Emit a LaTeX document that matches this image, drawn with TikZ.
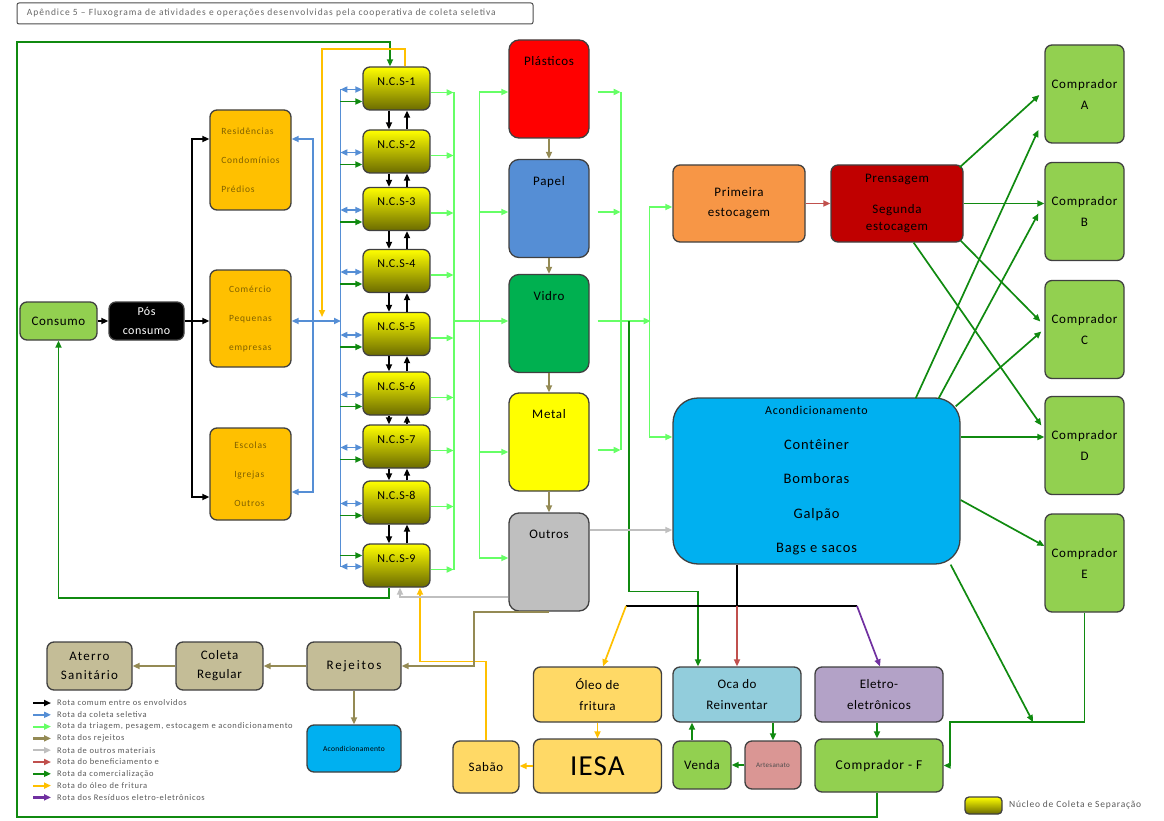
\documentclass[tikz,border=0pt]{standalone}
\usepackage{fontspec}
\setmainfont{Carlito}
\usepackage{tikz}
\usetikzlibrary{arrows.meta,positioning,calc}

\definecolor{cBlue}{HTML}{558ED5}
\definecolor{cLightGreen}{HTML}{66FF66}
\definecolor{cDarkGreen}{HTML}{108A10}
\definecolor{cTan}{HTML}{948A54}
\definecolor{cGray}{HTML}{BFBFBF}
\definecolor{cRed}{HTML}{C0504D}
\definecolor{cOrange}{HTML}{FFC000}
\definecolor{cPurple}{HTML}{7030A0}
\definecolor{fGreen}{HTML}{92D050}
\definecolor{fOrange}{HTML}{FFC000}
\definecolor{tOrange}{HTML}{7F6000}
\definecolor{fPlast}{HTML}{FF0000}
\definecolor{fPapel}{HTML}{558ED5}
\definecolor{fVidro}{HTML}{00B050}
\definecolor{fMetal}{HTML}{FFFF00}
\definecolor{fOutros}{HTML}{BFBFBF}
\definecolor{fPrim}{HTML}{F79646}
\definecolor{fPrens}{HTML}{C00000}
\definecolor{fAcond}{HTML}{00B0F0}
\definecolor{fOleo}{HTML}{FFD966}
\definecolor{fOca}{HTML}{92CDDC}
\definecolor{fEletro}{HTML}{B3A2C7}
\definecolor{fArtes}{HTML}{DA9694}
\definecolor{fRej}{HTML}{C4BD97}
\definecolor{ncsDark}{HTML}{6B6B00}

\newcommand\fsz[3]{\fontsize{#1}{#2}\selectfont\addfontfeatures{LetterSpace=#3}}

\tikzset{
  >={Triangle[length=7pt,width=6pt]},
  box/.style    ={draw=black!75,line width=1.3pt,rounded corners=7pt,inner sep=2pt,align=center,font=\fsz{13}{15}{5}},
  fonte/.style  ={box,fill=fOrange,minimum width=81,align=left,text=tOrange,font=\fsz{9.5}{29}{8}},
  ncs/.style    ={box,top color=yellow,bottom color=ncsDark,minimum width=67,minimum height=43,text depth=14pt,font=\fsz{12}{14}{4}},
  mat/.style    ={box,rounded corners=10pt,minimum width=80,minimum height=98,text depth=56pt},
  comprador/.style={box,fill=fGreen,minimum width=79,minimum height=98,font=\fsz{13}{21}{6}},
  baixo/.style  ={box,minimum width=128,minimum height=55,font=\fsz{13}{21}{4}},
  rejbox/.style ={box,fill=fRej,minimum width=87,minimum height=48,font=\fsz{13}{19}{6}},
  rota/.style   ={line width=1.7pt,->},
  comum/.style  ={rota,black},
  coleta/.style ={rota,cBlue},
  triagem/.style={rota,cLightGreen},
  rejeito/.style={rota,cTan},
  outros/.style ={rota,cGray},
  benef/.style  ={rota,cRed},
  comerc/.style ={rota,cDarkGreen},
  oleo/.style   ={rota,cOrange},
  eletro/.style ={rota,cPurple},
  legenda/.style={anchor=west,text=black!65,inner sep=1pt,font=\fsz{8.5}{9}{8}},
}

\begin{document}
\begin{tikzpicture}[x=1pt,y=-1pt]
  \useasboundingbox (0,0) rectangle (1164,821);

  % titulo
  \node[draw=black!70,line width=1pt,rounded corners=2pt,minimum width=516,minimum height=21,inner sep=0pt,
        text width=496,align=left,text=black!60,font=\fsz{9.5}{11}{10}] (titulo) at (275,13.5)
        {Apêndice 5 -- Fluxograma de atividades e operações desenvolvidas pela cooperativa de coleta seletiva};

  % origem
  \node[box,fill=fGreen,minimum width=77,minimum height=38] (consumo) at (58.5,321) {Consumo};
  \node[box,fill=black,text=white,minimum width=75,minimum height=38,font=\fsz{12}{19}{4}] (pos) at (146.5,321) {Pós\\consumo};
  \node[fonte,minimum height=100] (res) at (250.5,160) {Residências\\Condomínios\\Prédios};
  \node[fonte,minimum height=97] (com) at (250.5,318.5) {Comércio\\Pequenas\\empresas};
  \node[fonte,minimum height=92] (esc) at (250.5,474) {Escolas\\Igrejas\\Outros};

  % nucleos
  \foreach \i/\y in {1/88.5,2/151.5,3/209,4/271,5/334,6/393.5,7/446.5,8/502.5,9/565.5}
    \node[ncs] (n\i) at (396.5,\y) {N.C.S-\i};

  % materiais
  \node[mat,fill=fPlast]  (plast) at (549,89)    {Plásticos};
  \node[mat,fill=fPapel]  (papel) at (549,208.5) {Papel};
  \node[mat,fill=fVidro]  (vidro) at (549,323.5) {Vidro};
  \node[mat,fill=fMetal]  (metal) at (549,442)   {Metal};
  \node[mat,fill=fOutros] (outr)  at (549,562)   {Outros};

  \node[box,fill=fPrim,minimum width=132,minimum height=77,font=\fsz{13}{20}{5}] (prim) at (739,203.5) {Primeira\\estocagem};
  \node[box,fill=fPrens,minimum width=132,minimum height=77,font=\fsz{13}{17}{5}] (prens) at (897,203.5) {Prensagem\\[14pt]Segunda\\estocagem};
  \node[box,fill=fAcond,rounded corners=25pt,minimum width=287,minimum height=166,font=\fsz{14.5}{34.5}{6}] (acond) at (816.5,481)
        {{\fsz{12}{34.5}{6}Acondicionamento}\\Contêiner\\Bomboras\\Galpão\\Bags e sacos};

  % compradores
  \foreach \cl/\y in {A/94,B/211.5,C/329.5,D/445.5,E/563}
    \node[comprador] (c\cl) at (1084.5,\y) {Comprador\\\cl};

  % destinos de baixo
  \node[baixo,fill=fOleo]   (oleo)   at (597.5,694.5) {Óleo de\\fritura};
  \node[baixo,fill=fOca]    (oca)    at (737,694.5)   {Oca do\\Reinventar};
  \node[baixo,fill=fEletro] (eletro) at (879,694.5)   {Eletro-\\eletrônicos};
  \node[baixo,fill=fOleo,minimum height=54,font=\fsz{29}{30}{4}] (iesa) at (597.5,766) {IESA};
  \node[box,fill=fOleo,minimum width=66,minimum height=52] (sabao) at (486,767) {Sabão};
  \node[box,fill=fGreen,minimum width=58,minimum height=48] (venda) at (702,765) {Venda};
  \node[box,fill=fArtes,minimum width=56,minimum height=48,text=black!70,font=\fsz{7}{8}{4}] (artes) at (773,765) {Artesanato};
  \node[baixo,fill=fGreen,minimum height=53,font=\fsz{13.5}{15}{6}] (compF) at (879,765.5) {Comprador - F};

  % rejeitos
  \node[rejbox,minimum width=94,font=\fsz{13}{19}{14}] (rej) at (354,666)  {Rejeitos};
  \node[rejbox]                  (colreg) at (219.5,666) {Coleta\\Regular};
  \node[rejbox,minimum width=85,font=\fsz{13}{19}{10}] (aterro) at (89.5,666) {Aterro\\Sanitário};
  \node[box,fill=fAcond,minimum width=94,minimum height=47,font=\fsz{7.5}{9}{4}] (acsm) at (354,748.5) {Acondicionamento};

  % rota comum
  \coordinate (jpos) at (192,321);
  \draw[comum] (consumo) -- (pos);
  \draw[comum,-] (pos) -- (jpos);
  \draw[comum] (jpos) |- ($(res.west)+(0,-21)$);
  \draw[comum] (jpos) -- (jpos -| com.west);
  \draw[comum] (jpos) |- ($(esc.west)+(0,23)$);
  \foreach \i/\j in {1/2,2/3,3/4,4/5,5/6,6/7,7/8,8/9}{
    \draw[comum] ($(n\i.south)+(-7.5,0)$) -- ($(n\j.north)+(-7.5,0)$);
    \draw[comum] ($(n\j.north)+(10.5,0)$) -- ($(n\i.south)+(10.5,0)$);
  }

  % coleta seletiva
  \coordinate (jbl) at (313,321);
  \coordinate (bbus) at (341,321);
  \draw[coleta,<->] (jbl -| com.east) -- (bbus);
  \draw[coleta] (jbl) |- ($(res.east)+(0,-21)$);
  \draw[coleta] (jbl) |- ($(esc.east)+(0,18)$);
  \draw[coleta,-] ($(n1.west)+(-22,1)$) -- ($(n9.west)+(-22,1)$);
  \foreach \i in {1,...,9}
    \draw[coleta,<->] ($(n\i.west)+(-22,1)$) -- ($(n\i.west)+(0,1)$);
  \foreach \i in {1,...,8}
    \draw[comerc] ($(n\i.west)+(-22,13)$) -- ($(n\i.west)+(0,13)$);
  \draw[comerc] ($(n9.west)+(-22,-10)$) -- ($(n9.west)+(0,-10)$);

  % triagem
  \foreach \i in {1,...,9}
    \draw[triagem] ($(n\i.east)+(0,4)$) -- ($(n\i.east)+(23,4)$);
  \draw[triagem,-] ($(n1.east)+(23,4)$) -- ($(n9.east)+(23,4)$);
  \coordinate (tb1) at (453,321);
  \draw[triagem] (tb1) -- (tb1 -| vidro.west);
  \draw[triagem,-] ($(plast.west)+(-29,3)$) -- ($(outr.west)+(-29,-4)$);
  \foreach \m/\d in {plast/3,papel/3.5,metal/10,outr/-4}
    \draw[triagem] ($(\m.west)+(-29,\d)$) -- ($(\m.west)+(0,\d)$);
  \foreach \m/\d in {plast/3,papel/3.5,metal/8}
    \draw[triagem] ($(\m.east)+(8,\d)$) -- ($(\m.east)+(31,\d)$);
  \draw[triagem,-] ($(plast.east)+(31,3)$) -- ($(metal.east)+(31,8)$);
  \draw[triagem] ($(vidro.east)+(8,-2.5)$) -- ($(vidro.east)+(61,-2.5)$);
  \draw[triagem,-] ($(prim.west)+(-23,3.5)$) -- ($(acond.west)+(-23,-44)$);
  \draw[triagem] ($(prim.west)+(-23,3.5)$) -- ($(prim.west)+(0,3.5)$);
  \draw[triagem] ($(acond.west)+(-23,-44)$) -- ($(acond.west)+(0,-44)$);

  % beneficiamento
  \draw[benef] (prim) -- (prens);

  % comercializacao
  \coordinate (jg) at (629,321);
  \draw[comerc] (jg) |- ($(oca.north)+(-39,-75)$) -- ($(oca.north)+(-39,0)$);
  \draw[comerc] ($(prens.north east)+(-4,3)$) -- ($(cA.west)+(-5,1)$);
  \draw[comerc] (prens.east) -- (prens.east -| cB.west);
  \draw[comerc] ($(prens.south east)+(-3,-2)$) -- ($(cC.west)+(-4,-8)$);
  \draw[comerc] ($(prens.south east)+(-50,0)$) -- ($(cD.west)+(-3,-20)$);
  \draw[comerc] ($(acond.north east)+(-45,1)$) -- ($(cA.west)+(-6,36)$);
  \draw[comerc] ($(acond.north east)+(-22,1)$) -- ($(cB.west)+(-6,2)$);
  \draw[comerc] ($(acond.north east)+(-5,9)$) -- ($(cC.west)+(-3,2)$);
  \draw[comerc] ($(acond.east)+(0,-44)$) -- ($(cD.west)+(0,-8.5)$);
  \draw[comerc] ($(acond.east)+(0,19)$) -- ($(cE.west)+(0,-17)$);
  \coordinate (jef) at (1033,722);
  \coordinate (jf) at (950,722);
  \draw[comerc] ($(acond.south east)+(-10,0)$) -- (jef);
  \draw[comerc] (cE.south) |- (jf) |- (compF.east);
  \coordinate (jcl) at (17,817);
  \coordinate (jct) at (17,42);
  \draw[comerc] ($(compF.south)+(-2,0)$) |- (jcl) -- (jct) -| ($(n1.north)+(-6.5,0)$);
  \draw[comerc] ($(n9.south)+(-7.5,0)$) -- ++(0,10) -| (consumo.south);

  % oleo de fritura
  \coordinate (jor) at (322,317);
  \draw[oleo] ($(n1.north)+(8.5,0)$) -- ++(0,-17) -| (jor);
  \draw[oleo] (sabao.north) -- ++(0,-79) -| ($(n9.south)+(23.5,0)$);

  % outros materiais
  \draw[outros] ($(outr.west)+(0,35)$) -| ($(n9.south)+(3.5,0)$);
  \draw[outros] ($(outr.east)+(0,-32)$) -- ($(acond.west)+(0,49)$);

  % rejeitos
  \draw[rejeito] (plast) -- (papel);
  \draw[rejeito] (papel) -- (vidro);
  \draw[rejeito] (vidro) -- (metal);
  \draw[rejeito] (metal) -- (outr);
  \draw[rejeito] (outr.south) -| ($(rej.east)+(72,0)$) -- (rej.east);
  \draw[rejeito] (rej) -- (colreg);
  \draw[rejeito] (colreg) -- (aterro);
  \draw[rejeito] (rej) -- (acsm);

  % saida do acondicionamento
  \coordinate (jab) at (737,606);
  \coordinate (jal) at (626,606);
  \coordinate (jar) at (857,606);
  \draw[comum,-] (acond.south -| jab) -- (jab);
  \draw[comum,-] (jal) -- (jar);
  \draw[oleo] (jal) -- ($(oleo.north)+(5.5,0)$);
  \draw[benef] (jab) -- (oca.north);
  \draw[eletro] (jar) -- ($(eletro.north)+(1,0)$);

  \draw[oleo] (oleo) -- (iesa);
  \draw[oleo] (iesa.west) -- (iesa.west -| sabao.east);
  \draw[comerc] ($(oca.south)+(36,0)$) -- (artes.north);
  \draw[comerc] (artes) -- (venda);
  \draw[comerc] ($(venda.north)+(-10,0)$) -- ($(oca.south)+(-45,0)$);
  \draw[comerc] ($(eletro.south)+(-2,0)$) -- ($(compF.north)+(-2,0)$);

  % legenda
  \foreach \st/\txt [count=\idx] in {comum/Rota comum entre os envolvidos, coleta/Rota da coleta seletiva,
      triagem/{Rota da triagem, pesagem, estocagem e acondicionamento}, rejeito/Rota dos rejeitos,
      outros/Rota de outros materiais, benef/Rota do beneficiamento e, comerc/Rota da comercialização,
      oleo/Rota do óleo de fritura, eletro/Rota dos Resíduos eletro-eletrônicos}{
    \node[legenda] (leg\idx) at (56,691.2+11.8*\idx) {\txt};
    \draw[\st,line width=2.2pt] ($(leg\idx.west)+(-23,0)$) -- ($(leg\idx.west)+(-5,0)$);
  }
  \node[ncs,minimum width=37,minimum height=17,text depth=0pt,rounded corners=4pt] (legncs) at (983.5,805.5) {};
  \node[legenda,font=\fsz{9.5}{10}{8}] (legncst) at (1008,805) {Núcleo de Coleta e Separação};
\end{tikzpicture}
\end{document}
